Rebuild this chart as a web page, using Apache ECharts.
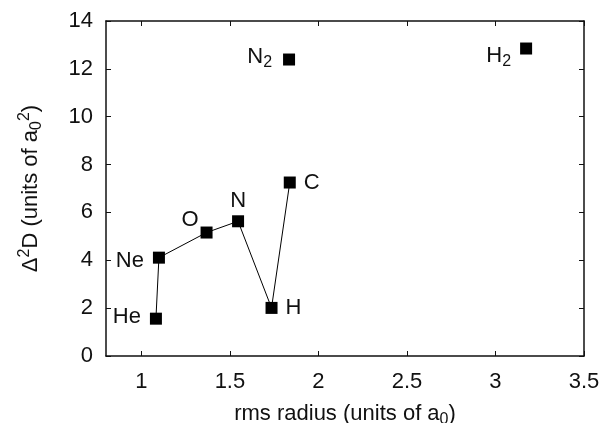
<!DOCTYPE html>
<html>
<head>
<meta charset="utf-8">
<script src="https://cdn.jsdelivr.net/npm/echarts@6/dist/echarts.min.js"></script>
<style>
  html, body { margin: 0; padding: 0; background: #fff; }
  #chart { width: 605px; height: 423px; }
</style>
</head>
<body>
<div id="chart"></div>
<script>
// Connected atomic series (rms radius, Δ²D)
const atomNames = ['He', 'Ne', 'O', 'N', 'H', 'C'];
const atomRadius = [1.082, 1.099, 1.368, 1.546, 1.735, 1.838];
const atomSpread = [1.56, 4.11, 5.16, 5.63, 2.01, 7.25];

// Isolated molecular points
const moleculeNames = ['N2', 'H2'];
const moleculeRadius = [1.834, 3.173];
const moleculeSpread = [12.39, 12.85];

// Axis tick values
const xTicks = [1, 1.5, 2, 2.5, 3, 3.5];
const yTicks = [0, 2, 4, 6, 8, 10, 12, 14];

const FONT = '"Liberation Sans", Arial, Helvetica, sans-serif';
const INK = '#111';
const FS = 22;
const FS_SMALL = 16;

// Label placement per point: [position, offset]
const atomLabelPos = {
  He: ['left', [-4, -2]],
  Ne: ['left', [-4, 3]],
  O:  ['left', [3, -13]],
  N:  ['top', [0, 2]],
  H:  ['right', [3, 0]],
  C:  ['right', [3, 0]]
};
const moleculeLabelPos = {
  N2: ['left', [-6, -3]],
  H2: ['left', [-4, 7]]
};

const subRich = {
  base: { fontSize: FS, fontFamily: FONT, color: INK },
  sub: { fontSize: FS_SMALL, fontFamily: FONT, color: INK, padding: [12, 0, 0, 0] }
};

function moleculeText(name) {
  const m = name.match(/^([A-Za-z]+)(\d+)$/);
  return m ? '{base|' + m[1] + '}{sub|' + m[2] + '}' : '{base|' + name + '}';
}

const atomData = atomNames.map((n, i) => ({
  name: n,
  value: [atomRadius[i], atomSpread[i]],
  label: { position: atomLabelPos[n][0], offset: atomLabelPos[n][1] }
}));
const moleculeData = moleculeNames.map((n, i) => ({
  name: n,
  value: [moleculeRadius[i], moleculeSpread[i]],
  label: { position: moleculeLabelPos[n][0], offset: moleculeLabelPos[n][1] }
}));

const tickStyle = { inside: true, length: 5, lineStyle: { color: INK, width: 1 } };
const lineStyle = { color: INK, width: 1.5 };

const chart = echarts.init(document.getElementById('chart'), null, { renderer: 'canvas' });
chart.setOption({
  animation: false,
  backgroundColor: '#fff',
  textStyle: { fontFamily: FONT },
  grid: { left: 106, top: 21, right: 21, bottom: 67, outerBoundsMode: 'none', containLabel: false },
  xAxis: [
    {
      type: 'value', min: 0.8, max: 3.5, position: 'bottom',
      axisLine: { show: true, onZero: false, lineStyle: lineStyle },
      axisTick: Object.assign({ customValues: xTicks }, tickStyle),
      axisLabel: {
        customValues: xTicks, fontSize: FS, color: INK, fontFamily: FONT, margin: 15,
        formatter: v => String(v)
      },
      splitLine: { show: false },
      name: '{t|rms radius (units of a}{s|0}{t|)}',
      nameLocation: 'middle', nameGap: 44,
      nameTextStyle: {
        rich: {
          t: { fontSize: FS, fontFamily: FONT, color: INK },
          s: { fontSize: FS_SMALL, fontFamily: FONT, color: INK, padding: [12, 0, 0, 0] }
        }
      }
    },
    {
      type: 'value', min: 0.8, max: 3.5, position: 'top',
      axisLine: { show: true, onZero: false, lineStyle: lineStyle },
      axisTick: Object.assign({ customValues: xTicks }, tickStyle),
      axisLabel: { show: false },
      splitLine: { show: false }
    }
  ],
  yAxis: [
    {
      type: 'value', min: 0, max: 14, interval: 2, position: 'left',
      axisLine: { show: true, onZero: false, lineStyle: lineStyle },
      axisTick: tickStyle,
      axisLabel: { fontSize: FS, color: INK, fontFamily: FONT, margin: 13 },
      splitLine: { show: false },
      name: '{t|Δ}{p|2}{t|D (units of a}{s|0}{p|2}{t|)}',
      nameLocation: 'middle', nameGap: 61, nameRotate: 90,
      nameTextStyle: {
        rich: {
          t: { fontSize: FS, fontFamily: FONT, color: INK },
          s: { fontSize: FS_SMALL, fontFamily: FONT, color: INK, padding: [12, 0, 0, 0] },
          p: { fontSize: FS_SMALL, fontFamily: FONT, color: INK, padding: [0, 0, 12, 0] }
        }
      }
    },
    {
      type: 'value', min: 0, max: 14, interval: 2, position: 'right',
      axisLine: { show: true, onZero: false, lineStyle: lineStyle },
      axisTick: tickStyle,
      axisLabel: { show: false },
      splitLine: { show: false }
    }
  ],
  series: [
    {
      type: 'line',
      data: atomData,
      symbol: 'rect', symbolSize: 12,
      itemStyle: { color: '#000', opacity: 1 },
      lineStyle: { color: '#000', width: 1 },
      label: {
        show: true, fontSize: FS, color: INK, fontFamily: FONT,
        formatter: p => p.name
      },
      z: 3
    },
    {
      type: 'scatter',
      data: moleculeData,
      symbol: 'rect', symbolSize: 12,
      itemStyle: { color: '#000', opacity: 1 },
      label: {
        show: true, color: INK, opacity: 1,
        formatter: p => moleculeText(p.name),
        rich: subRich
      },
      z: 3
    }
  ]
});
</script>
</body>
</html>
